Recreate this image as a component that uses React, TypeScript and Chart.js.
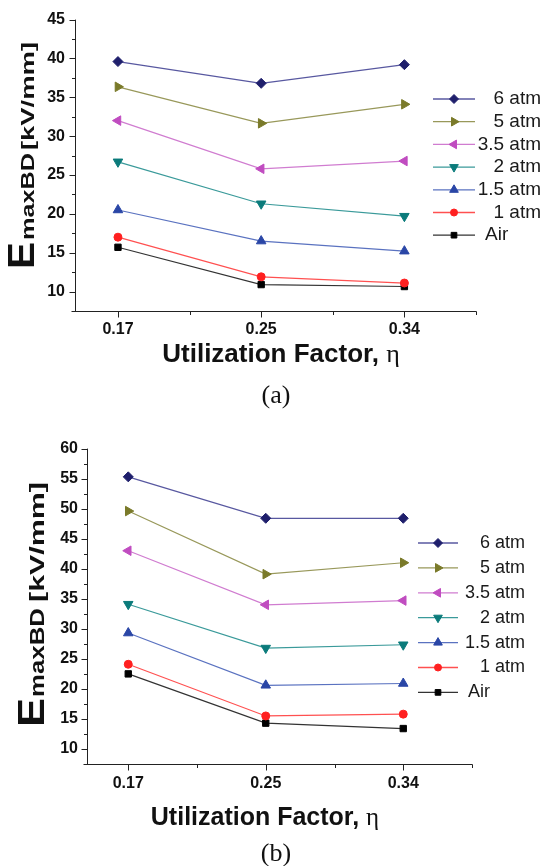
import React, { useEffect, useRef } from 'react';
import { Chart, registerables } from 'chart.js';
import { drawPoint } from 'chart.js/helpers';

Chart.register(...registerables);

// ---------- data ----------
const xLabels = ['0.17', '0.25', '0.34'];
const seriesNames = ['6 atm', '5 atm', '3.5 atm', '2 atm', '1.5 atm', '1 atm', 'Air'];

// panel (a)
const a6atm = [39.6, 36.8, 39.2];
const a5atm = [36.35, 31.65, 34.1];
const a35atm = [32.0, 25.8, 26.8];
const a2atm = [26.7, 21.3, 19.7];
const a15atm = [20.5, 16.5, 15.2];
const a1atm = [17.0, 11.9, 11.1];
const aAir = [15.7, 10.9, 10.65];
const yTicksA = [10, 15, 20, 25, 30, 35, 40, 45];

// panel (b)
const b6atm = [55.3, 48.4, 48.4];
const b5atm = [49.6, 39.1, 41.0];
const b35atm = [43.0, 34.0, 34.7];
const b2atm = [34.1, 26.8, 27.35];
const b15atm = [29.3, 20.6, 20.9];
const b1atm = [24.1, 15.5, 15.8];
const bAir = [22.5, 14.3, 13.4];
const yTicksB = [10, 15, 20, 25, 30, 35, 40, 45, 50, 55, 60];

const yTitleParts = ['E', 'maxBD', '[kV/mm]'];
const xTitleText = 'Utilization Factor, ';
const xTitleSymbol = 'η';
const panelLabels = ['(a)', '(b)'];

// ---------- styles ----------
const SANS = "'Liberation Sans', Arial, sans-serif";
const SERIF = "'Liberation Serif', 'Times New Roman', serif";
const markerColors = ['#1f1f6c', '#7a7a2a', '#c04cc0', '#0b7b7b', '#2a46a6', '#ff2020', '#000000'];
const lineColors = ['#5858a0', '#98985a', '#d07cd0', '#3a9a9a', '#5a72c0', '#ff5050', '#333333'];
const pointStyles = ['rectRot', 'triangle', 'triangle', 'triangle', 'triangle', 'circle', 'rect'];
const pointRotations = [0, 90, -90, 180, 0, 0, 0];
const pointRadii = [5, 5.5, 5.5, 5.5, 5.5, 4, 4.5];

const decorPlugin = {
  id: 'decor',
  afterDraw(chart: any, _args: any, o: any) {
    const { ctx, chartArea: ca } = chart;
    const xs = chart.scales.x;
    const ys = chart.scales.y;
    ctx.save();
    // axes
    ctx.strokeStyle = '#222';
    ctx.lineWidth = 1;
    const ax = Math.round(ca.left) + 0.5;
    const ay = Math.round(ca.bottom) + 0.5;
    ctx.beginPath();
    ctx.moveTo(ax, ca.top);
    ctx.lineTo(ax, ay);
    ctx.moveTo(ax - o.overhang, ay);
    ctx.lineTo(Math.round(ca.right) + 0.5, ay);
    // y ticks
    const yt: number[] = o.yTicks;
    const step = yt[1] - yt[0];
    yt.forEach((v) => {
      const p = Math.round(ys.getPixelForValue(v)) + 0.5;
      ctx.moveTo(ax - 6, p);
      ctx.lineTo(ax, p);
    });
    const minors = [yt[0] - step / 2, ...yt.map((v) => v + step / 2)];
    minors.forEach((v) => {
      if (v < ys.min - 1e-6 || v > ys.max + 1e-6) return;
      const p = Math.round(ys.getPixelForValue(v)) + 0.5;
      ctx.moveTo(ax - 3.5, p);
      ctx.lineTo(ax, p);
    });
    // x ticks
    xLabels.forEach((_, i) => {
      const p = Math.round(xs.getPixelForValue(i)) + 0.5;
      ctx.moveTo(p, ay);
      ctx.lineTo(p, ay + 6);
      const m = Math.round(xs.getPixelForValue(i + 0.5)) + 0.5;
      ctx.moveTo(m, ay);
      ctx.lineTo(m, ay + 3.5);
    });
    ctx.stroke();

    // legend
    const L = o.legend;
    chart.data.datasets.forEach((ds: any, i: number) => {
      const y = L.top + i * L.gap;
      ctx.strokeStyle = ds.borderColor;
      ctx.lineWidth = 1.3;
      ctx.beginPath();
      ctx.moveTo(L.x1, y);
      ctx.lineTo(L.x2, y);
      ctx.stroke();
      ctx.fillStyle = ds.pointBackgroundColor;
      ctx.strokeStyle = ds.pointBorderColor;
      ctx.lineWidth = 1;
      drawPoint(ctx, { pointStyle: ds.pointStyle, rotation: ds.pointRotation, radius: ds.pointRadius - 0.5, borderWidth: 1 }, L.mx, y);
      ctx.fillStyle = '#1a1a1a';
      ctx.font = `${L.font}px ${SANS}`;
      ctx.textBaseline = 'middle';
      if (ds.label === 'Air') {
        ctx.textAlign = 'left';
        ctx.fillText(ds.label, L.textLeft, y);
      } else {
        ctx.textAlign = 'right';
        ctx.fillText(ds.label, L.textRight, y);
      }
    });

    // x title
    const X = o.xTitle;
    ctx.fillStyle = '#111';
    ctx.textBaseline = 'alphabetic';
    ctx.textAlign = 'left';
    ctx.font = `bold ${X.font}px ${SANS}`;
    const w1 = ctx.measureText(xTitleText).width;
    ctx.font = `${X.font}px ${SERIF}`;
    const w2 = ctx.measureText(xTitleSymbol).width;
    const sx = X.cx - (w1 + w2) / 2;
    ctx.font = `bold ${X.font}px ${SANS}`;
    ctx.fillText(xTitleText, sx, X.baseline);
    ctx.font = `${X.font}px ${SERIF}`;
    ctx.fillText(xTitleSymbol, sx + w1, X.baseline);

    // y title (rotated, pieces with own sizes)
    const Y = o.yTitle;
    Y.parts.forEach((part: any, i: number) => {
      ctx.save();
      ctx.translate(Y.baselineX, part.start);
      ctx.rotate(-Math.PI / 2);
      ctx.font = `bold ${part.font}px ${SANS}`;
      const mw = ctx.measureText(yTitleParts[i]).width;
      ctx.scale(part.len / mw, 1);
      ctx.textAlign = 'left';
      ctx.textBaseline = 'alphabetic';
      ctx.fillText(yTitleParts[i], 0, 0);
      ctx.restore();
    });

    // panel label
    const P = o.panel;
    ctx.font = `${P.font}px ${SERIF}`;
    ctx.textAlign = 'center';
    ctx.textBaseline = 'alphabetic';
    ctx.fillStyle = '#111';
    ctx.fillText(P.text, P.cx, P.baseline);
    ctx.restore();
  },
};

function buildConfig(p: any) {
  return {
    type: 'line',
    data: {
      datasets: p.series.map((vals: number[], i: number) => ({
        label: seriesNames[i],
        data: vals.map((v, j) => ({ x: j, y: v })),
        borderColor: lineColors[i],
        backgroundColor: markerColors[i],
        pointBackgroundColor: markerColors[i],
        pointBorderColor: markerColors[i],
        pointStyle: pointStyles[i],
        pointRotation: pointRotations[i],
        pointRadius: pointRadii[i],
        pointBorderWidth: 1,
        borderWidth: 1.2,
        tension: 0,
        fill: false,
        clip: false,
      })),
    },
    options: {
      responsive: false,
      animation: false,
      events: [],
      layout: { padding: p.padding },
      plugins: {
        legend: { display: false },
        tooltip: { enabled: false },
        decor: p.decor,
      },
      scales: {
        x: {
          type: 'linear',
          min: -0.3,
          max: 2.5,
          grid: { display: false, drawTicks: false },
          border: { display: false },
          afterBuildTicks: (s: any) => {
            s.ticks = xLabels.map((_, i) => ({ value: i }));
          },
          afterFit: (s: any) => {
            s.height = 40;
          },
          ticks: {
            padding: p.xTickPad,
            color: '#111',
            autoSkip: false,
            maxRotation: 0,
            font: { family: SANS, size: 16, weight: 'bold' },
            callback: (v: number) => xLabels[v] ?? '',
          },
        },
        y: {
          type: 'linear',
          min: p.yMin,
          max: p.yMax,
          grid: { display: false, drawTicks: false },
          border: { display: false },
          afterBuildTicks: (s: any) => {
            s.ticks = p.yTicks.map((v: number) => ({ value: v }));
          },
          afterFit: (s: any) => {
            s.width = p.yWidth;
          },
          ticks: {
            padding: p.yTickPad,
            color: '#111',
            font: { family: SANS, size: 16, weight: 'bold' },
          },
        },
      },
    },
    plugins: [decorPlugin],
  } as any;
}

const panelA = {
  series: [a6atm, a5atm, a35atm, a2atm, a15atm, a1atm, aAir],
  yTicks: yTicksA,
  yMin: 7.5,
  yMax: 45,
  yWidth: 75,
  yTickPad: 10,
  xTickPad: 9,
  padding: { left: 0, right: 68, top: 16, bottom: 79 },
  decor: {
    overhang: 4,
    yTicks: yTicksA,
    legend: { x1: 433, x2: 475, mx: 454, textRight: 541, textLeft: 485, top: 99, gap: 22.7, font: 19 },
    xTitle: { cx: 281, baseline: 362, font: 26 },
    yTitle: {
      baselineX: 34,
      parts: [
        { start: 269, font: 36, len: 27 },
        { start: 240, font: 18, len: 87 },
        { start: 150, font: 18, len: 108 },
      ],
    },
    panel: { text: panelLabels[0], cx: 276, baseline: 403, font: 26 },
  },
};

const panelB = {
  series: [b6atm, b5atm, b35atm, b2atm, b15atm, b1atm, bAir],
  yTicks: yTicksB,
  yMin: 7.5,
  yMax: 60,
  yWidth: 87,
  yTickPad: 9,
  xTickPad: 10,
  padding: { left: 0, right: 72, top: 10, bottom: 62 },
  decor: {
    overhang: 4,
    yTicks: yTicksB,
    legend: { x1: 418, x2: 458, mx: 438, textRight: 525, textLeft: 468, top: 113, gap: 24.9, font: 18 },
    xTitle: { cx: 265, baseline: 395, font: 25 },
    yTitle: {
      baselineX: 43.5,
      parts: [
        { start: 297, font: 37, len: 29 },
        { start: 267, font: 21, len: 89 },
        { start: 172, font: 21, len: 120 },
      ],
    },
    panel: { text: panelLabels[1], cx: 276, baseline: 431, font: 26 },
  },
};

export default function App() {
  const refA = useRef<HTMLCanvasElement>(null);
  const refB = useRef<HTMLCanvasElement>(null);
  useEffect(() => {
    Chart.defaults.font.family = SANS;
    const ca = new Chart(refA.current as HTMLCanvasElement, buildConfig(panelA));
    const cb = new Chart(refB.current as HTMLCanvasElement, buildConfig(panelB));
    return () => {
      ca.destroy();
      cb.destroy();
    };
  }, []);
  return (
    <div style={{ position: 'absolute', left: 0, top: 0, width: 544, height: 866, background: '#fff' }}>
      <canvas ref={refA} width={544} height={430} style={{ position: 'absolute', left: 0, top: 0, display: 'block' }} />
      <canvas ref={refB} width={544} height={436} style={{ position: 'absolute', left: 0, top: 430, display: 'block' }} />
    </div>
  );
}
